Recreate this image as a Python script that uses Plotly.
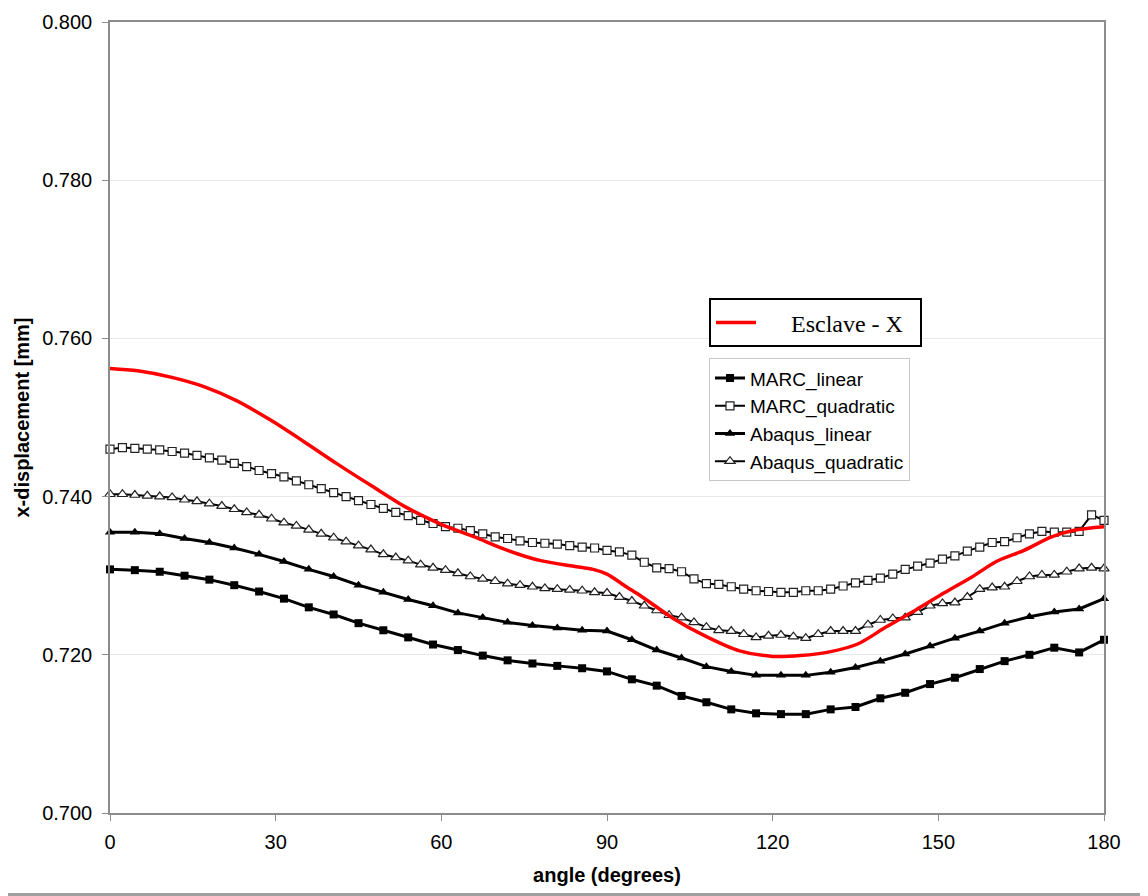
import plotly.graph_objects as go

# ---------------- data ----------------
angles_coarse = [0, 4.5, 9, 13.5, 18, 22.5, 27, 31.5, 36, 40.5, 45, 49.5, 54, 58.5, 63, 67.5,
                 72, 76.5, 81, 85.5, 90, 94.5, 99, 103.5, 108, 112.5, 117, 121.5, 126, 130.5,
                 135, 139.5, 144, 148.5, 153, 157.5, 162, 166.5, 171, 175.5, 180]

angles_fine = [0, 2.25, 4.5, 6.75, 9, 11.25, 13.5, 15.75, 18, 20.25, 22.5, 24.75, 27, 29.25,
               31.5, 33.75, 36, 38.25, 40.5, 42.75, 45, 47.25, 49.5, 51.75, 54, 56.25, 58.5,
               60.75, 63, 65.25, 67.5, 69.75, 72, 74.25, 76.5, 78.75, 81, 83.25, 85.5, 87.75,
               90, 92.25, 94.5, 96.75, 99, 101.25, 103.5, 105.75, 108, 110.25, 112.5, 114.75,
               117, 119.25, 121.5, 123.75, 126, 128.25, 130.5, 132.75, 135, 137.25, 139.5,
               141.75, 144, 146.25, 148.5, 150.75, 153, 155.25, 157.5, 159.75, 162, 164.25,
               166.5, 168.75, 171, 173.25, 175.5, 177.75, 180]

marc_linear = [0.7308, 0.7307, 0.7305, 0.7300, 0.7295, 0.7288, 0.7280, 0.7271, 0.7260, 0.7251,
               0.7240, 0.7231, 0.7222, 0.7213, 0.7206, 0.7199, 0.7193, 0.7189, 0.7186, 0.7183,
               0.7179, 0.7169, 0.7161, 0.7148, 0.7140, 0.7131, 0.7126, 0.7125, 0.7125, 0.7131,
               0.7134, 0.7145, 0.7152, 0.7163, 0.7171, 0.7182, 0.7192, 0.7200, 0.7209, 0.7203,
               0.7219]

abaqus_linear = [0.7355, 0.7355, 0.7353, 0.7347, 0.7342, 0.7335, 0.7327, 0.7318, 0.7308, 0.7299,
                 0.7288, 0.7279, 0.7270, 0.7262, 0.7253, 0.7247, 0.7241, 0.7237, 0.7234, 0.7231,
                 0.7230, 0.7219, 0.7206, 0.7196, 0.7185, 0.7179, 0.7174, 0.7174, 0.7174, 0.7178,
                 0.7184, 0.7192, 0.7201, 0.7211, 0.7221, 0.7230, 0.7240, 0.7248, 0.7254, 0.7258,
                 0.7271]

marc_quadratic = [0.7460, 0.7462, 0.7461, 0.7460, 0.7459, 0.7457, 0.7455, 0.7452, 0.7449, 0.7446,
                  0.7442, 0.7438, 0.7433, 0.7429, 0.7425, 0.7420, 0.7415, 0.7410, 0.7405, 0.7400,
                  0.7395, 0.7390, 0.7385, 0.7380, 0.7376, 0.7370, 0.7366, 0.7362, 0.7360, 0.7357,
                  0.7353, 0.7349, 0.7347, 0.7344, 0.7342, 0.7341, 0.7340, 0.7338, 0.7336, 0.7335,
                  0.7332, 0.7330, 0.7326, 0.7317, 0.7310, 0.7309, 0.7305, 0.7296, 0.7290, 0.7289,
                  0.7286, 0.7283, 0.7281, 0.7280, 0.7279, 0.7279, 0.7281, 0.7281, 0.7283, 0.7287,
                  0.7291, 0.7294, 0.7297, 0.7302, 0.7308, 0.7312, 0.7316, 0.7321, 0.7325, 0.7331,
                  0.7336, 0.7342, 0.7343, 0.7348, 0.7353, 0.7356, 0.7355, 0.7355, 0.7356, 0.7377,
                  0.7370]

abaqus_quadratic = [0.7403, 0.7403, 0.7402, 0.7401, 0.7400, 0.7399, 0.7396, 0.7394, 0.7391, 0.7388,
                    0.7384, 0.7380, 0.7377, 0.7372, 0.7367, 0.7363, 0.7358, 0.7353, 0.7348, 0.7343,
                    0.7338, 0.7333, 0.7327, 0.7323, 0.7319, 0.7314, 0.7310, 0.7307, 0.7303, 0.7299,
                    0.7296, 0.7293, 0.7290, 0.7288, 0.7286, 0.7284, 0.7283, 0.7282, 0.7281, 0.7279,
                    0.7278, 0.7273, 0.7268, 0.7262, 0.7256, 0.7250, 0.7247, 0.7241, 0.7235, 0.7231,
                    0.7230, 0.7226, 0.7222, 0.7224, 0.7225, 0.7223, 0.7221, 0.7226, 0.7230, 0.7230,
                    0.7230, 0.7238, 0.7244, 0.7246, 0.7247, 0.7254, 0.7262, 0.7265, 0.7266, 0.7273,
                    0.7283, 0.7285, 0.7286, 0.7293, 0.7299, 0.7301, 0.7301, 0.7305, 0.7309, 0.7310,
                    0.7309]

esclave_angles = [0, 5, 11, 17, 23, 29, 35, 41, 47.5, 53.5, 60, 66, 72, 78, 84, 87.5, 90, 93.5,
                  96, 102, 108, 114, 120, 125, 130.5, 135.5, 140.5, 146, 151, 156, 160.5, 165.5,
                  170.5, 175, 180]
esclave_x = [0.7562, 0.7559, 0.7551, 0.7539, 0.7521, 0.7497, 0.7470, 0.7442, 0.7413, 0.7387,
             0.7365, 0.7349, 0.7332, 0.7319, 0.7312, 0.7308, 0.7302, 0.7286, 0.7275, 0.7246,
             0.7223, 0.7205, 0.7198, 0.7199, 0.7204, 0.7214, 0.7235, 0.7257, 0.7278, 0.7298,
             0.7318, 0.7332, 0.7349, 0.7358, 0.7362]

y_ticks = [0.700, 0.720, 0.740, 0.760, 0.780, 0.800]
x_ticks = [0, 30, 60, 90, 120, 150, 180]

# ---------------- figure ----------------
fig = go.Figure()

fig.add_trace(go.Scatter(
    x=angles_coarse, y=marc_linear, name="MARC_linear", mode="lines+markers",
    line=dict(color="black", width=3),
    marker=dict(symbol="square", size=8, color="black"),
    legend="legend", legendgroup="a", cliponaxis=False))
fig.add_trace(go.Scatter(
    x=angles_fine, y=marc_quadratic, name="MARC_quadratic", mode="lines+markers",
    line=dict(color="black", width=2),
    marker=dict(symbol="square", size=8, color="white", line=dict(color="#222222", width=1.2)),
    legend="legend", legendgroup="b", cliponaxis=False))
fig.add_trace(go.Scatter(
    x=angles_coarse, y=abaqus_linear, name="Abaqus_linear", mode="lines+markers",
    line=dict(color="black", width=3),
    marker=dict(symbol="triangle-up", size=9, color="black"),
    legend="legend", legendgroup="c", cliponaxis=False))
fig.add_trace(go.Scatter(
    x=angles_fine, y=abaqus_quadratic, name="Abaqus_quadratic", mode="lines+markers",
    line=dict(color="black", width=2),
    marker=dict(symbol="triangle-up", size=9, color="white", line=dict(color="#222222", width=1.2)),
    legend="legend", legendgroup="d", cliponaxis=False))
fig.add_trace(go.Scatter(
    x=esclave_angles, y=esclave_x, name="\u00a0\u00a0\u00a0\u00a0\u00a0Esclave - X\u00a0\u00a0", mode="lines",
    line=dict(color="#ff0000", width=3.5, shape="spline", smoothing=0.8),
    legend="legend2", cliponaxis=False))

grid_col = "#e8e8e8"
axis_col = "#8c8c8c"

fig.update_layout(
    width=1140, height=888,
    margin=dict(l=102, r=44, t=14, b=83, pad=0),
    paper_bgcolor="white", plot_bgcolor="white",
    font=dict(family="Liberation Sans, Arial, sans-serif", size=20, color="black"),
    xaxis=dict(
        range=[0, 180], tickvals=x_ticks, ticktext=[str(v) for v in x_ticks],
        showgrid=False, zeroline=False, automargin=False,
        showline=True, linecolor=axis_col, linewidth=1.5, mirror=True,
        ticks="outside", ticklen=6, tickcolor=axis_col,
        tickfont=dict(size=20), ticklabelstandoff=4,
        title=dict(text="<b>angle (degrees)</b>", font=dict(size=20), standoff=16),
    ),
    yaxis=dict(
        range=[0.700, 0.800], tickvals=y_ticks, ticktext=["%.3f" % v for v in y_ticks],
        showgrid=True, gridcolor=grid_col, gridwidth=1, zeroline=False, automargin=False,
        showline=True, linecolor=axis_col, linewidth=1.5, mirror=True,
        ticks="outside", ticklen=6, tickcolor=axis_col,
        tickfont=dict(size=20), ticklabelstandoff=6,
        title=dict(text="<b>x-displacement [mm]</b>", font=dict(size=20), standoff=7),
    ),
    legend=dict(
        x=0.6026, y=0.5749, xanchor="left", yanchor="top",
        bgcolor="white", bordercolor="#c8c8c8", borderwidth=1,
        font=dict(family="Liberation Sans, Arial, sans-serif", size=19),
        tracegroupgap=0, itemwidth=30,
    ),
    legend2=dict(
        x=0.6026, y=0.6507, xanchor="left", yanchor="top",
        bgcolor="white", bordercolor="black", borderwidth=2,
        font=dict(family="Liberation Serif, Times New Roman, serif", size=24),
        itemwidth=40,
    ),
    showlegend=True,
)

# window bottom edge seen in the reference
fig.add_shape(type="rect", xref="paper", yref="paper",
              x0=-0.12, x1=1.05, y0=-0.1049, y1=-0.1011,
              line=dict(width=0), fillcolor="#a0a0a0", layer="above")

fig.write_html("out.html")
